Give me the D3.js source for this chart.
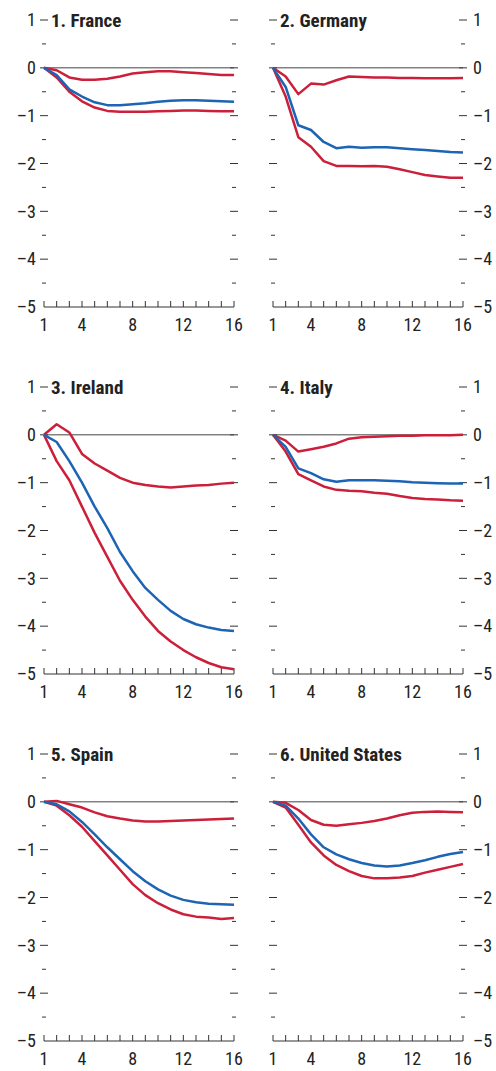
<!DOCTYPE html>
<html><head><meta charset="utf-8">
<script src="https://cdn.jsdelivr.net/npm/d3@7"></script>
<style>body{margin:0;background:#fff}svg{font-family:"Liberation Sans Narrow","Roboto Condensed","Liberation Sans",Arial,sans-serif}</style>
</head><body><svg id="c" width="496" height="1071"></svg>
<script>
var titles = ["1. France","2. Germany","3. Ireland","4. Italy","5.  Spain","6. United States"];
var periods = d3.range(1, 17);
var xTicks = [1, 4, 8, 12, 16];
var yTicks = [1, 0, -1, -2, -3, -4, -5];

var mid = [
 [0,-0.15,-0.45,-0.6,-0.72,-0.78,-0.78,-0.76,-0.74,-0.71,-0.69,-0.68,-0.68,-0.69,-0.7,-0.71],
 [0,-0.4,-1.2,-1.3,-1.55,-1.68,-1.65,-1.67,-1.66,-1.66,-1.68,-1.7,-1.72,-1.74,-1.76,-1.77],
 [0,-0.15,-0.55,-1.0,-1.5,-1.95,-2.45,-2.85,-3.2,-3.45,-3.68,-3.85,-3.96,-4.03,-4.08,-4.1],
 [0,-0.25,-0.7,-0.8,-0.93,-0.98,-0.95,-0.95,-0.95,-0.96,-0.97,-0.99,-1.0,-1.01,-1.02,-1.02],
 [0,-0.05,-0.2,-0.42,-0.68,-0.95,-1.2,-1.45,-1.66,-1.83,-1.96,-2.05,-2.1,-2.13,-2.14,-2.15],
 [0,-0.08,-0.35,-0.68,-0.95,-1.1,-1.2,-1.28,-1.33,-1.35,-1.33,-1.28,-1.22,-1.15,-1.09,-1.05]
];
var upper = [
 [0,-0.05,-0.2,-0.25,-0.25,-0.23,-0.18,-0.12,-0.09,-0.07,-0.07,-0.09,-0.11,-0.13,-0.15,-0.15],
 [0,-0.18,-0.55,-0.33,-0.35,-0.26,-0.18,-0.19,-0.2,-0.2,-0.21,-0.21,-0.22,-0.22,-0.22,-0.21],
 [0,0.22,0.05,-0.4,-0.6,-0.75,-0.9,-1.0,-1.05,-1.08,-1.1,-1.08,-1.06,-1.05,-1.02,-1.0],
 [0,-0.12,-0.35,-0.3,-0.25,-0.18,-0.08,-0.05,-0.04,-0.03,-0.02,-0.02,-0.01,-0.01,-0.01,0],
 [0,0.02,-0.05,-0.12,-0.22,-0.3,-0.35,-0.39,-0.41,-0.41,-0.4,-0.39,-0.38,-0.37,-0.36,-0.35],
 [0,-0.02,-0.17,-0.38,-0.48,-0.5,-0.47,-0.44,-0.4,-0.35,-0.28,-0.23,-0.21,-0.2,-0.21,-0.22]
];
var lower = [
 [0,-0.2,-0.5,-0.7,-0.83,-0.9,-0.92,-0.92,-0.92,-0.91,-0.9,-0.89,-0.89,-0.9,-0.91,-0.91],
 [0,-0.6,-1.45,-1.65,-1.95,-2.05,-2.05,-2.06,-2.05,-2.07,-2.12,-2.18,-2.24,-2.27,-2.3,-2.3],
 [0,-0.55,-0.95,-1.5,-2.05,-2.55,-3.05,-3.45,-3.8,-4.1,-4.32,-4.5,-4.65,-4.77,-4.86,-4.9],
 [0,-0.35,-0.82,-0.95,-1.08,-1.15,-1.17,-1.18,-1.21,-1.23,-1.28,-1.32,-1.34,-1.35,-1.37,-1.38],
 [0,-0.08,-0.28,-0.52,-0.82,-1.12,-1.42,-1.72,-1.95,-2.12,-2.25,-2.35,-2.4,-2.42,-2.45,-2.43],
 [0,-0.12,-0.48,-0.85,-1.12,-1.32,-1.45,-1.55,-1.6,-1.6,-1.58,-1.55,-1.48,-1.42,-1.36,-1.3]
];

var blue = "#1d64b4", red = "#cc1f3a";
var svg = d3.select("#c");
var fmt = function(d){ return d < 0 ? "\u2013" + (-d) : "" + d; };

titles.forEach(function(t, i) {
  var col = i % 2, row = Math.floor(i / 2);
  var left = col ? 273 : 44, right = left + 190;
  var top = 20 + row * 367, bottom = top + 287;
  var x = d3.scaleLinear().domain([1, 16]).range([left, right]);
  var y = d3.scaleLinear().domain([1, -5]).range([top, bottom]);
  var g = svg.append("g");

  // y ticks on both edges, majors and half-step minors
  d3.range(1, -5, -0.5).forEach(function(v) {
    var major = v % 1 === 0, len = major ? 4 : 2;
    [left, right].forEach(function(ex) {
      g.append("line").attr("x1", ex - len).attr("x2", ex + len)
        .attr("y1", y(v)).attr("y2", y(v)).attr("stroke", "#333").attr("stroke-width", 1);
    });
  });
  yTicks.forEach(function(v) {
    g.append("text").attr("x", col ? right + 10 : left - 8).attr("y", y(v)).attr("dy", "0.35em")
      .attr("text-anchor", col ? "start" : "end").attr("font-size", 18).attr("fill", "#222").text(fmt(v));
  });

  // bottom axis
  g.append("line").attr("x1", left).attr("x2", right).attr("y1", bottom).attr("y2", bottom).attr("stroke", "#333");
  periods.forEach(function(p) {
    g.append("line").attr("x1", x(p)).attr("x2", x(p)).attr("y1", bottom).attr("y2", bottom - 6).attr("stroke", "#333");
  });
  xTicks.forEach(function(p) {
    g.append("text").attr("x", x(p)).attr("y", bottom + 24).attr("text-anchor", "middle")
      .attr("font-size", 18).attr("fill", "#222").text(p);
  });

  // zero line
  g.append("line").attr("x1", left).attr("x2", right).attr("y1", y(0)).attr("y2", y(0)).attr("stroke", "#444").attr("stroke-width", 1);

  var line = d3.line().x(function(d, k){ return x(periods[k]); }).y(function(d){ return y(d); });
  [[upper[i], red], [lower[i], red], [mid[i], blue]].forEach(function(s) {
    g.append("path").attr("d", line(s[0])).attr("fill", "none").attr("stroke", s[1])
      .attr("stroke-width", 2.5).attr("stroke-linejoin", "round");
  });

  g.append("text").attr("x", left + 7).attr("y", y(1)).attr("dy", "0.35em")
    .attr("font-size", 19).attr("font-weight", "bold").attr("fill", "#222").text(t);
});
</script></body></html>
